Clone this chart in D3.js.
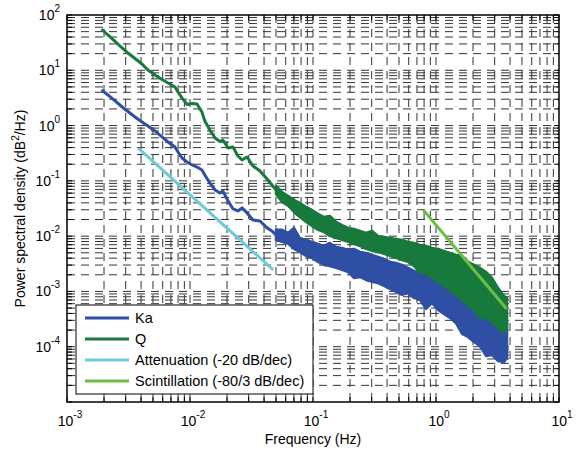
<!DOCTYPE html>
<html lang="en">

<head>
    <meta charset="UTF-8" />
    <title>Power spectral density</title>
    <script src="https://cdnjs.cloudflare.com/ajax/libs/d3/7.8.5/d3.min.js"></script>
    <style>
        body {
            margin: 0;
            padding: 0;
            background: #fff;
            font-family: 'Liberation Sans', Arial, Helvetica, sans-serif;
        }

        .tick-label {
            font-size: 14px;
            fill: #000;
        }

        .axis-title {
            font-size: 14px;
            fill: #000;
        }

        .legend-text {
            font-size: 14.5px;
            fill: #000;
        }
    </style>
</head>

<body>
    <svg id="chart" width="577" height="450"></svg>

    <script>
        // smooth low-frequency part of the spectra (Hz, dB^2/Hz)
        const freq = [0.00191, 0.00215, 0.00246, 0.00275, 0.00313, 0.00357, 0.00407, 0.00455, 0.00519,
            0.00592, 0.00663, 0.00755, 0.00799, 0.00861, 0.00945, 0.0104, 0.0114, 0.0125, 0.0132, 0.0145,
            0.0160, 0.0175, 0.0185, 0.0204, 0.0224, 0.0245, 0.0265, 0.0291, 0.0325, 0.0371, 0.0423, 0.0464, 0.050];
        const ka = [4.41, 3.58, 2.79, 2.26, 1.80, 1.43, 1.16, 0.984, 0.799,
            0.622, 0.505, 0.410, 0.333, 0.259, 0.220, 0.194, 0.178, 0.157, 0.128, 0.0916,
            0.0684, 0.0604, 0.0657, 0.0433, 0.0310, 0.0286, 0.0324, 0.0263, 0.0196, 0.0188, 0.0141, 0.0124, 0.0105];
        const q = [55.8, 43.5, 33.2, 26.4, 20.5, 16.3, 13.0, 10.1, 8.22,
            6.82, 5.89, 4.99, 4.05, 3.16, 2.41, 2.51, 2.46, 1.76, 1.21, 0.833,
            0.597, 0.516, 0.549, 0.394, 0.410, 0.282, 0.239, 0.270, 0.186, 0.151, 0.108, 0.0843, 0.0684];

        // noisy high-frequency part: upper / lower envelope
        const noiseFreq = [0.050, 0.056, 0.063, 0.070, 0.078, 0.088, 0.098, 0.110, 0.123, 0.137,
            0.154, 0.172, 0.193, 0.215, 0.241, 0.270, 0.302, 0.338, 0.378, 0.423,
            0.473, 0.529, 0.592, 0.662, 0.741, 0.830, 0.927, 1.04, 1.16, 1.30,
            1.45, 1.63, 1.82, 2.04, 2.28, 2.55, 2.85, 3.19, 3.57, 3.78];
        const kaHi = [0.0130, 0.0130, 0.0114, 0.0141, 0.00928, 0.00854, 0.00786, 0.00723, 0.00665, 0.00753,
            0.00638, 0.00612, 0.00563, 0.00587, 0.00518, 0.00497, 0.00457, 0.00421, 0.00387, 0.00342,
            0.00328, 0.00301, 0.00266, 0.00235, 0.00216, 0.00207, 0.00175, 0.00161, 0.00142, 0.00121,
            0.000979, 0.000865, 0.000702, 0.000620, 0.000524, 0.000483, 0.000409, 0.000346, 0.000281, 0.000269];
        const kaLo = [0.00854, 0.00786, 0.00723, 0.00587, 0.00518, 0.00439, 0.00404, 0.00342, 0.00301, 0.00289,
            0.00266, 0.00245, 0.00225, 0.00175, 0.00183, 0.00161, 0.00149, 0.00142, 0.00126, 0.00111,
            0.000979, 0.000865, 0.000939, 0.000763, 0.000702, 0.000483, 0.000620, 0.000463, 0.000392, 0.000332,
            0.000269, 0.000170, 0.000150, 0.000122, 0.000103, 0.0000682, 0.0000711, 0.0000554, 0.0000531, 0.0000627];
        const qHi = [0.0809, 0.0630, 0.0533, 0.0451, 0.0399, 0.0337, 0.0298, 0.0252, 0.0222, 0.0232,
            0.0181, 0.0159, 0.0141, 0.0135, 0.0124, 0.0114, 0.0124, 0.0101, 0.00967, 0.00928,
            0.00890, 0.00854, 0.00786, 0.00753, 0.00693, 0.00665, 0.00612, 0.00587, 0.00540, 0.00497,
            0.00457, 0.00439, 0.00342, 0.00301, 0.00266, 0.00225, 0.00175, 0.00116, 0.000829, 0.000763];
        const qLo = [0.0580, 0.0415, 0.0352, 0.0274, 0.0222, 0.0181, 0.0153, 0.0130, 0.0119, 0.0101,
            0.00928, 0.00854, 0.00786, 0.00723, 0.00665, 0.00587, 0.00540, 0.00518, 0.00477, 0.00439,
            0.00404, 0.00371, 0.00342, 0.00289, 0.00216, 0.00216, 0.00175, 0.00149, 0.00126, 0.00106,
            0.000865, 0.000702, 0.000570, 0.000463, 0.000332, 0.000332, 0.000281, 0.000219, 0.000178, 0.000219];

        // fitted slopes
        const attenFreq = [0.0038, 0.0475];
        const attenPsd = [0.39, 0.00245];
        const scintFreq = [0.79, 3.76];
        const scintPsd = [0.0298, 0.00048];

        const xExps = [-3, -2, -1, 0, 1];
        const yExps = [2, 1, 0, -1, -2, -3, -4];

        const legendItems = [
            { label: "Ka", color: "#2e4fa3" },
            { label: "Q", color: "#17793b" },
            { label: "Attenuation (-20 dB/dec)", color: "#6fcad8" },
            { label: "Scintillation (-80/3 dB/dec)", color: "#6cbf45" }
        ];

        const svg = d3.select("#chart");
        const pLeft = 67, pRight = 559, pTop = 15, pBottom = 402;

        const x = d3.scaleLog().domain([1e-3, 1e1]).range([pLeft, pRight]);
        const y = d3.scaleLog().domain([1e-5, 1e2]).range([pBottom, pTop]);

        // all decade + minor positions
        function logTicks(lo, hi) {
            const out = [];
            for (let e = lo; e < hi; e++) {
                for (let m = 1; m <= 9; m++) out.push(m * Math.pow(10, e));
            }
            out.push(Math.pow(10, hi));
            return out;
        }
        const xTicks = logTicks(-3, 1);
        const yTicks = logTicks(-5, 2);

        // grid
        const grid = svg.append("g")
            .attr("stroke", "#333")
            .attr("stroke-width", 1)
            .attr("stroke-dasharray", "8,6");

        grid.selectAll("line.v")
            .data(xTicks.filter(d => d > 1.0001e-3 && d < 0.9999e1))
            .join("line")
            .attr("class", "v")
            .attr("x1", d => x(d))
            .attr("x2", d => x(d))
            .attr("y1", pTop)
            .attr("y2", pBottom);

        grid.selectAll("line.h")
            .data(yTicks.filter(d => d > 1.0001e-5 && d < 0.9999e2))
            .join("line")
            .attr("class", "h")
            .attr("x1", pLeft)
            .attr("x2", pRight)
            .attr("y1", d => y(d))
            .attr("y2", d => y(d));

        const line = d3.line()
            .x(d => x(d[0]))
            .y(d => y(d[1]));

        const band = d3.area()
            .x(d => x(d.f))
            .y0(d => y(d.lo))
            .y1(d => y(d.hi));

        function drawSeries(vals, hi, lo, color) {
            const g = svg.append("g");
            g.append("path")
                .datum(noiseFreq.map((f, i) => ({ f: f, hi: hi[i], lo: lo[i] })))
                .attr("d", band)
                .attr("fill", color)
                .attr("stroke", color)
                .attr("stroke-width", 2.5)
                .attr("stroke-linejoin", "round");
            g.append("path")
                .datum(freq.map((f, i) => [f, vals[i]]))
                .attr("d", line)
                .attr("fill", "none")
                .attr("stroke", color)
                .attr("stroke-width", 3)
                .attr("stroke-linejoin", "round");
        }

        drawSeries(ka, kaHi, kaLo, legendItems[0].color);
        drawSeries(q, qHi, qLo, legendItems[1].color);

        svg.append("path")
            .datum(attenFreq.map((f, i) => [f, attenPsd[i]]))
            .attr("d", line)
            .attr("fill", "none")
            .attr("stroke", legendItems[2].color)
            .attr("stroke-width", 3);

        svg.append("path")
            .datum(scintFreq.map((f, i) => [f, scintPsd[i]]))
            .attr("d", line)
            .attr("fill", "none")
            .attr("stroke", legendItems[3].color)
            .attr("stroke-width", 3);

        // box + inward ticks on all sides
        const axes = svg.append("g").attr("stroke", "#000").attr("stroke-width", 1);
        const tl = 5;
        xTicks.forEach(t => {
            const px = x(t);
            axes.append("line").attr("x1", px).attr("x2", px).attr("y1", pBottom).attr("y2", pBottom - tl);
            axes.append("line").attr("x1", px).attr("x2", px).attr("y1", pTop).attr("y2", pTop + tl);
        });
        yTicks.forEach(t => {
            const py = y(t);
            axes.append("line").attr("x1", pLeft).attr("x2", pLeft + tl).attr("y1", py).attr("y2", py);
            axes.append("line").attr("x1", pRight).attr("x2", pRight - tl).attr("y1", py).attr("y2", py);
        });
        axes.append("rect")
            .attr("x", pLeft).attr("y", pTop)
            .attr("width", pRight - pLeft).attr("height", pBottom - pTop)
            .attr("fill", "none")
            .attr("stroke-width", 1.5);

        // tick labels
        xExps.forEach(e => {
            const t = svg.append("text")
                .attr("class", "tick-label")
                .attr("x", x(Math.pow(10, e)) + 3)
                .attr("y", pBottom + 24)
                .attr("text-anchor", "middle");
            t.append("tspan").text("10");
            t.append("tspan").attr("dy", -8).attr("font-size", "10px").text(e);
        });
        yExps.forEach(e => {
            const t = svg.append("text")
                .attr("class", "tick-label")
                .attr("x", 60)
                .attr("y", y(Math.pow(10, e)) + 5)
                .attr("text-anchor", "end");
            t.append("tspan").text("10");
            t.append("tspan").attr("dy", -8).attr("font-size", "10px").text(e);
        });

        // axis titles
        svg.append("text")
            .attr("class", "axis-title")
            .attr("x", (pLeft + pRight) / 2)
            .attr("y", 444)
            .attr("text-anchor", "middle")
            .text("Frequency (Hz)");

        const yt = svg.append("text")
            .attr("class", "axis-title")
            .attr("transform", `translate(25,${(pTop + pBottom) / 2}) rotate(-90)`)
            .attr("text-anchor", "middle");
        yt.append("tspan").text("Power spectral density (dB");
        yt.append("tspan").attr("dy", -6).attr("font-size", "10px").text("2");
        yt.append("tspan").attr("dy", 6).text("/Hz)");

        // legend
        const legend = svg.append("g");
        legend.append("rect")
            .attr("x", 76).attr("y", 305)
            .attr("width", 237).attr("height", 89)
            .attr("fill", "#fff")
            .attr("stroke", "#000")
            .attr("stroke-width", 1);
        legendItems.forEach((d, i) => {
            const ly = 318 + i * 21;
            legend.append("line")
                .attr("x1", 85).attr("x2", 129)
                .attr("y1", ly).attr("y2", ly)
                .attr("stroke", d.color)
                .attr("stroke-width", 3);
            legend.append("text")
                .attr("class", "legend-text")
                .attr("x", 135)
                .attr("y", ly + 5)
                .text(d.label);
        });
    </script>
</body>

</html>
